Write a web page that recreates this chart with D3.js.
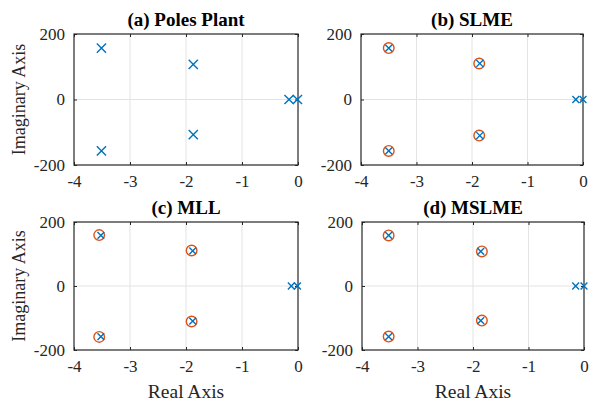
<!DOCTYPE html>
<html>
<head>
<meta charset="utf-8">
<script src="https://cdn.jsdelivr.net/npm/d3@7"></script>
<style>
  body { margin: 0; background: #fff; }
  svg text { font-family: "Liberation Serif", "Times New Roman", serif !important; fill: #262626; }
</style>
</head>
<body>
<div id="chart"></div>
<script>
var width = 589,
    height = 405;

var titles = ["(a) Poles Plant", "(b) SLME", "(c) MLL", "(d) MSLME"];
var xTicks = [-4, -3, -2, -1, 0];
var yTicks = [-200, 0, 200];

// poles (blue x) per panel
var polesRe = [
  [-3.51, -3.51, -1.87, -1.87, -0.16, -0.01],
  [-3.50, -3.50, -1.86, -1.86, -0.13, 0],
  [-3.52, -3.52, -1.88, -1.88, -0.12, -0.01],
  [-3.52, -3.52, -1.86, -1.86, -0.15, 0]
];
var polesIm = [
  [157, -157, 107, -107, 0, 0],
  [157, -157, 110, -110, 0, 0],
  [158, -158, 110, -110, 0, 0],
  [158, -158, 108, -108, 0, 0]
];
// zeros (orange o) per panel
var zerosRe = [
  [],
  [-3.50, -3.50, -1.87, -1.87],
  [-3.55, -3.55, -1.90, -1.90],
  [-3.52, -3.52, -1.84, -1.84]
];
var zerosIm = [
  [],
  [157, -157, 110, -110],
  [159, -159, 111, -111],
  [158, -158, 108, -108]
];

var boxes = [
  {x0: 74, x1: 298, y0: 34, y1: 165},
  {x0: 361, x1: 583, y0: 34, y1: 165},
  {x0: 74, x1: 298, y0: 222, y1: 350},
  {x0: 362, x1: 584, y0: 222, y1: 350}
];

var fmt = function(d) { return String(d); };  // plain hyphen minus, no decimals

var svg = d3.select("#chart")
  .append("svg")
  .attr("width", width)
  .attr("height", height);

function styleAxis(a) {
  a.select(".domain").remove();
  a.selectAll("line").attr("stroke", "#262626");
  a.selectAll("text").attr("font-size", "17px").attr("fill", "#262626");
}

boxes.forEach(function(b, p) {
  var x = d3.scaleLinear().domain([-4, 0]).range([b.x0, b.x1]);
  var y = d3.scaleLinear().domain([-200, 200]).range([b.y1, b.y0]);
  var g = svg.append("g");

  // grid
  g.selectAll(".gx")
    .data(xTicks.slice(1, -1))
    .enter()
    .append("line")
    .attr("x1", function(d) { return x(d); })
    .attr("x2", function(d) { return x(d); })
    .attr("y1", b.y0)
    .attr("y2", b.y1)
    .attr("stroke", "#e3e3e3")
    .attr("stroke-width", 1);
  g.selectAll(".gy")
    .data(yTicks.slice(1, -1))
    .enter()
    .append("line")
    .attr("y1", function(d) { return y(d); })
    .attr("y2", function(d) { return y(d); })
    .attr("x1", b.x0)
    .attr("x2", b.x1)
    .attr("stroke", "#e3e3e3")
    .attr("stroke-width", 1);

  // axes with inner ticks
  g.append("g")
    .attr("transform", "translate(0," + b.y1 + ")")
    .call(d3.axisBottom(x).tickValues(xTicks).tickFormat(fmt).tickSizeInner(-3).tickSizeOuter(0).tickPadding(10))
    .call(styleAxis);
  g.append("g")
    .attr("transform", "translate(0," + b.y0 + ")")
    .call(d3.axisTop(x).tickValues(xTicks).tickSizeInner(-3).tickSizeOuter(0).tickFormat(""))
    .call(styleAxis);
  g.append("g")
    .attr("transform", "translate(" + b.x0 + ",0)")
    .call(d3.axisLeft(y).tickValues(yTicks).tickFormat(fmt).tickSizeInner(-3).tickSizeOuter(0).tickPadding(9))
    .call(styleAxis);
  g.append("g")
    .attr("transform", "translate(" + b.x1 + ",0)")
    .call(d3.axisRight(y).tickValues(yTicks).tickSizeInner(-3).tickSizeOuter(0).tickFormat(""))
    .call(styleAxis);

  g.append("rect")
    .attr("x", b.x0)
    .attr("y", b.y0)
    .attr("width", b.x1 - b.x0)
    .attr("height", b.y1 - b.y0)
    .attr("fill", "none")
    .attr("stroke", "#262626")
    .attr("stroke-width", 1.2);

  // zeros
  var zs = zerosRe[p].map(function(d, i) { return {re: d, im: zerosIm[p][i]}; });
  g.selectAll(".zero")
    .data(zs)
    .enter()
    .append("circle")
    .attr("cx", function(d) { return x(d.re); })
    .attr("cy", function(d) { return y(d.im); })
    .attr("r", 5.3)
    .attr("fill", "none")
    .attr("stroke", "#D95319")
    .attr("stroke-width", 1.4);

  // poles
  var h = p === 0 ? 4.6 : 3.4;
  var ps = polesRe[p].map(function(d, i) { return {re: d, im: polesIm[p][i]}; });
  g.selectAll(".pole")
    .data(ps)
    .enter()
    .append("path")
    .attr("d", function(d) {
      var cx = x(d.re), cy = y(d.im);
      return "M" + (cx - h) + "," + (cy - h) + "L" + (cx + h) + "," + (cy + h) +
             "M" + (cx - h) + "," + (cy + h) + "L" + (cx + h) + "," + (cy - h);
    })
    .attr("fill", "none")
    .attr("stroke", "#0072BD")
    .attr("stroke-width", 1.4);

  // title
  g.append("text")
    .attr("x", (b.x0 + b.x1) / 2)
    .attr("y", b.y0 - 8)
    .attr("text-anchor", "middle")
    .attr("font-size", "19px")
    .attr("font-weight", "bold")
    .style("fill", "#000")
    .text(titles[p]);

  // axis labels
  if (p % 2 === 0) {
    g.append("text")
      .attr("transform", "translate(25," + ((b.y0 + b.y1) / 2) + ") rotate(-90)")
      .attr("text-anchor", "middle")
      .attr("font-size", "18px")
      .text("Imaginary Axis");
  }
  if (p >= 2) {
    g.append("text")
      .attr("x", (b.x0 + b.x1) / 2)
      .attr("y", 398)
      .attr("text-anchor", "middle")
      .attr("font-size", "19.5px")
      .text("Real Axis");
  }
});
</script>
</body>
</html>
